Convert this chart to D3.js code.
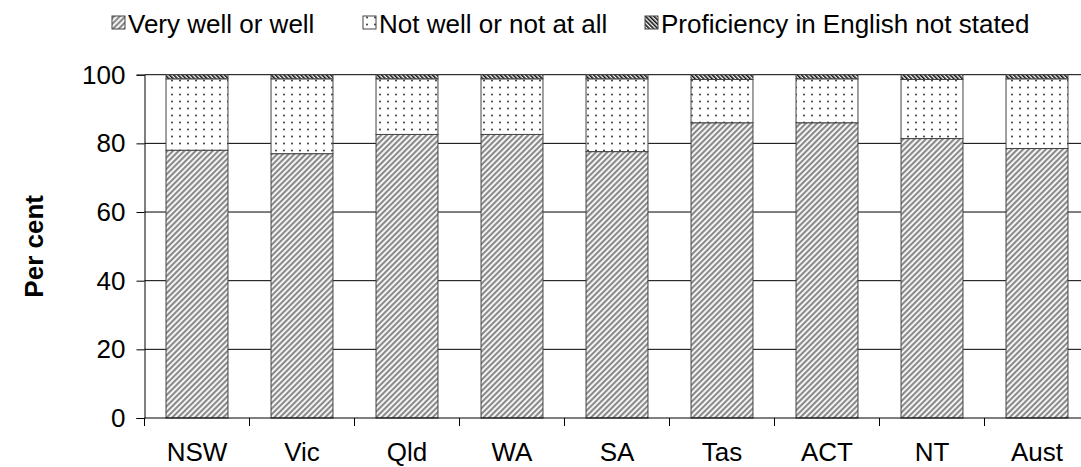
<!DOCTYPE html>
<html>
<head>
<meta charset="utf-8">
<script src="https://cdn.jsdelivr.net/npm/d3@7"></script>
<style>
  body { margin: 0; background: #fff; }
  svg { display: block; font-family: "Liberation Sans", Arial, sans-serif; }
</style>
</head>
<body>
<svg id="chart" width="1081" height="467"></svg>
<script>
// categories and series (per cent)
const states = ["NSW", "Vic", "Qld", "WA", "SA", "Tas", "ACT", "NT", "Aust"];
const veryWell = [78.0, 77.0, 82.6, 82.6, 77.6, 86.0, 86.0, 81.4, 78.5];
const notWell = [20.8, 21.8, 16.2, 16.2, 21.2, 12.6, 12.8, 17.2, 20.3];
const notStated = [1.2, 1.2, 1.2, 1.2, 1.2, 1.4, 1.2, 1.4, 1.2];
const seriesNames = ["Very well or well", "Not well or not at all", "Proficiency in English not stated"];
const yTicks = [0, 20, 40, 60, 80, 100];

const svg = d3.select("#chart");
const defs = svg.append("defs");

// grey/white diagonal stripes
const p1 = defs.append("pattern").attr("id", "pVery")
  .attr("patternUnits", "userSpaceOnUse").attr("width", 4).attr("height", 4)
  .attr("patternTransform", "rotate(45)");
p1.append("rect").attr("width", 4).attr("height", 4).attr("fill", "#fff");
p1.append("rect").attr("width", 2.2).attr("height", 4).attr("fill", "#8a8a8a");

// dots
const p2 = defs.append("pattern").attr("id", "pNot")
  .attr("patternUnits", "userSpaceOnUse").attr("width", 8).attr("height", 7);
p2.append("rect").attr("width", 8).attr("height", 7).attr("fill", "#fff");
p2.append("circle").attr("cx", 4).attr("cy", 3.5).attr("r", 0.9).attr("fill", "#222");

// dense black hatch
const p3 = defs.append("pattern").attr("id", "pNs")
  .attr("patternUnits", "userSpaceOnUse").attr("width", 3).attr("height", 3)
  .attr("patternTransform", "rotate(-45)");
p3.append("rect").attr("width", 3).attr("height", 3).attr("fill", "#fff");
p3.append("rect").attr("width", 1.6).attr("height", 3).attr("fill", "#111");

const fills = ["url(#pVery)", "url(#pNot)", "url(#pNs)"];

const x = d3.scaleBand().domain(states).range([144.5, 1089.5])
  .paddingInner(0.41).paddingOuter(0.205);
const y = d3.scaleLinear().domain([0, 100]).range([418, 74.7]);

// gridlines
svg.append("g").selectAll("line")
  .data(yTicks.filter(d => d > 0))
  .join("line")
  .attr("x1", x.range()[0]).attr("x2", x.range()[1])
  .attr("y1", d => y(d)).attr("y2", d => y(d))
  .attr("stroke", "#000").attr("stroke-width", 1);

// stacked bars
const rows = states.map((s, i) => ({ state: s, v: veryWell[i], n: notWell[i], ns: notStated[i] }));
const stack = d3.stack().keys(["v", "n", "ns"])(rows);

svg.append("g").selectAll("g")
  .data(stack)
  .join("g")
  .attr("fill", (d, i) => fills[i])
  .selectAll("rect")
  .data(d => d)
  .join("rect")
  .attr("x", d => x(d.data.state))
  .attr("width", x.bandwidth())
  .attr("y", d => y(d[1]))
  .attr("height", d => y(d[0]) - y(d[1]))
  .attr("stroke", "#444").attr("stroke-width", 1);

// y axis
const yAxis = svg.append("g")
  .attr("transform", `translate(${x.range()[0]},0)`)
  .call(d3.axisLeft(y).tickValues(yTicks).tickSize(8).tickPadding(11));
yAxis.selectAll("path, line").attr("stroke", "#000");
yAxis.selectAll("text").attr("font-size", 26).attr("fill", "#000")
  .attr("font-family", "Liberation Sans, Arial, sans-serif");

// x axis line + ticks between categories
svg.append("line")
  .attr("x1", x.range()[0]).attr("x2", x.range()[1])
  .attr("y1", y(0)).attr("y2", y(0)).attr("stroke", "#000");
svg.append("g").selectAll("line")
  .data(d3.range(states.length + 1))
  .join("line")
  .attr("x1", i => x.range()[0] + i * x.step())
  .attr("x2", i => x.range()[0] + i * x.step())
  .attr("y1", y(0)).attr("y2", y(0) + 8)
  .attr("stroke", "#000");
svg.append("g").selectAll("text")
  .data(states)
  .join("text")
  .attr("x", d => x(d) + x.bandwidth() / 2)
  .attr("y", 461)
  .attr("text-anchor", "middle")
  .attr("font-size", 26)
  .text(d => d);

// y title
svg.append("text")
  .attr("transform", `translate(43,${(y(0) + y(100)) / 2}) rotate(-90)`)
  .attr("text-anchor", "middle")
  .attr("font-size", 26).attr("font-weight", "bold")
  .text("Per cent");

// legend
const legendX = [112, 363, 645];
const lg = svg.append("g").selectAll("g")
  .data(seriesNames)
  .join("g")
  .attr("transform", (d, i) => `translate(${legendX[i]},0)`);
lg.append("rect").attr("x", 0).attr("y", 16).attr("width", 13).attr("height", 13)
  .attr("fill", (d, i) => fills[i]).attr("stroke", "#444");
lg.append("text").attr("x", 16).attr("y", 33)
  .attr("font-size", 26)
  .text(d => d);
</script>
</body>
</html>
